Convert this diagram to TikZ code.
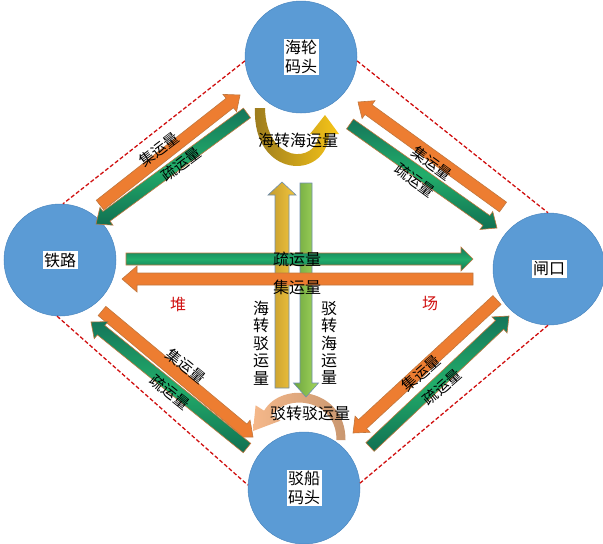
\documentclass[tikz,border=0pt]{standalone}
\usepackage{fontspec}
\setmainfont{Noto Sans CJK SC}
\usetikzlibrary{calc}
\definecolor{cblue}{HTML}{5B9BD5}
\definecolor{cblueedge}{HTML}{4A86BF}
\definecolor{corange}{HTML}{ED7D31}
\definecolor{cedge}{HTML}{C0773E}
\definecolor{cgreenA}{HTML}{15765A}
\definecolor{cgreenB}{HTML}{117052}
\definecolor{cgreenC}{HTML}{22AD6A}
\definecolor{cgoldA}{HTML}{C39B2E}
\definecolor{cgoldB}{HTML}{F3C63D}
\definecolor{clgA}{HTML}{6EA63F}
\definecolor{clgB}{HTML}{A3D65C}
\definecolor{cvedge}{HTML}{6F8FAF}
\definecolor{cred}{HTML}{D01010}
\definecolor{uturnA}{HTML}{9A7A1E}
\definecolor{uturnB}{HTML}{F7C518}
\definecolor{peachA}{HTML}{F5B88A}
\definecolor{peachB}{HTML}{C99770}
\newcommand{\blockarrow}[6]{%
  \coordinate (ba-n) at ($(#3)!#6!(#2)$);
  \path[#1] ($(#2)!#4!90:(#3)$) -- ($(ba-n)!#4!90:(#3)$) -- ($(ba-n)!#5!90:(#3)$) -- (#3)
    -- ($(ba-n)!#5!-90:(#3)$) -- ($(ba-n)!#4!-90:(#3)$) -- ($(#2)!#4!-90:(#3)$) -- cycle;}
\tikzset{
  port/.style={circle, fill=cblue, draw=cblueedge, line width=0.5pt, minimum size=112pt, inner sep=0pt},
  portlab/.style={fill=white, inner sep=1.5pt, align=center, font=\fontsize{16}{19}\selectfont},
  boundary/.style={draw=cred, dash pattern=on 4pt off 2.2pt, line width=1.3pt},
  orangearrow/.style={fill=corange, draw=cedge, line width=0.6pt},
  greenarrow/.style={top color=cgreenA, bottom color=cgreenB, middle color=cgreenC, draw=cedge, line width=0.6pt},
  goldarrow/.style={left color=cgoldA, right color=cgoldB, draw=cvedge, line width=0.6pt},
  lgarrow/.style={left color=clgA, right color=clgB, draw=cvedge, line width=0.6pt},
  lab/.style={inner sep=0pt, font=\fontsize{16}{17}\selectfont},
  dlab/.style={inner sep=0pt, font=\fontsize{15}{16}\selectfont},
  vlab/.style={inner sep=0pt, align=center, font=\fontsize{16}{17.4}\selectfont},
  redlab/.style={inner sep=0pt, text=cred, font=\fontsize{16}{17}\selectfont}
}
\begin{document}
\begin{tikzpicture}[x=1pt, y=-1pt]
\useasboundingbox (0,0) rectangle (603,544);

% curved arrows (behind circles)
\path[left color=uturnA, right color=uturnB] (255,108) .. controls (252,178) and (326,182) .. (329,134)
  -- (339,134) -- (325,115) -- (310,134) -- (319,134) .. controls (316,165) and (266,163) .. (265,108) -- cycle;
\path[left color=peachA, right color=peachB] (345.5,440) .. controls (345.5,388) and (282,380) .. (264.1,410.7)
  -- (255.6,405.3) -- (253,431) -- (280.4,420.7) -- (271.9,415.3) .. controls (287,393) and (336.5,399) .. (336.5,440) -- cycle;

% circles
\node[port] (top) at (301,57) {};
\node[port] (left) at (60,260) {};
\node[port] (right) at (549,269) {};
\node[port] (bottom) at (304,488) {};

% dashed boundary
\draw[boundary] (top.184) -- (left.87);
\draw[boundary] (top.356) -- (right.91);
\draw[boundary] (left.267) -- (bottom.177);
\draw[boundary] (right.269) -- (bottom.5);

% arrow end points
\coordinate (ltO1) at (100,205); \coordinate (ltO2) at (240,95);
\coordinate (ltG1) at (247,113); \coordinate (ltG2) at (96,224);
\coordinate (rtO1) at (503,207); \coordinate (rtO2) at (358,102);
\coordinate (rtG1) at (350,124); \coordinate (rtG2) at (497,228);
\coordinate (lbO1) at (102,311); \coordinate (lbO2) at (253,437);
\coordinate (lbG1) at (247,448); \coordinate (lbG2) at (91,322);
\coordinate (rbO1) at (497,300); \coordinate (rbO2) at (353,433);
\coordinate (rbG1) at (370,447); \coordinate (rbG2) at (509,316);
\coordinate (hG1) at (126,259); \coordinate (hG2) at (473,259);
\coordinate (hO1) at (473,279); \coordinate (hO2) at (122,279);
\coordinate (vY1) at (282,388); \coordinate (vY2) at (282,182);
\coordinate (vG1) at (306,183); \coordinate (vG2) at (306,397);

% vertical arrows
\blockarrow{goldarrow}{vY1}{vY2}{7pt}{14pt}{13pt}
\blockarrow{lgarrow}{vG1}{vG2}{6pt}{12.5pt}{14pt}
% horizontal arrows
\blockarrow{greenarrow}{hG1}{hG2}{6pt}{12pt}{12pt}
\blockarrow{orangearrow}{hO1}{hO2}{6pt}{13pt}{15pt}
% diagonal arrows
\blockarrow{orangearrow}{ltO1}{ltO2}{6pt}{11pt}{13pt}
\blockarrow{greenarrow}{ltG1}{ltG2}{6pt}{11pt}{13pt}
\blockarrow{orangearrow}{rtO1}{rtO2}{6pt}{11pt}{13pt}
\blockarrow{greenarrow}{rtG1}{rtG2}{6pt}{11pt}{13pt}
\blockarrow{orangearrow}{lbO1}{lbO2}{6pt}{11pt}{13pt}
\blockarrow{greenarrow}{lbG1}{lbG2}{6pt}{11pt}{13pt}
\blockarrow{orangearrow}{rbO1}{rbO2}{6pt}{11pt}{13pt}
\blockarrow{greenarrow}{rbG1}{rbG2}{6pt}{11pt}{13pt}

% circle labels
\node[portlab] (toplab) at (top) {海轮\\码头};
\node[portlab] (leftlab) at (left) {铁路};
\node[portlab] (rightlab) at (right) {闸口};
\node[portlab] (bottomlab) at (bottom) {驳船\\码头};

% arrow labels
\node[dlab, rotate=37] (lt1) at (159,149) {集运量};
\node[dlab, rotate=37] (lt2) at (181,164) {疏运量};
\node[dlab, rotate=-36] (rt1) at (432,163) {集运量};
\node[dlab, rotate=-36] (rt2) at (415,180) {疏运量};
\node[dlab, rotate=-39] (lb1) at (186,366) {集运量};
\node[dlab, rotate=-39] (lb2) at (170,392) {疏运量};
\node[dlab, rotate=41] (rb1) at (421,373) {集运量};
\node[dlab, rotate=41] (rb2) at (442,387) {疏运量};
\node[lab] (h1) at (297,259) {疏运量};
\node[lab] (h2) at (297,287) {集运量};
\node[lab] (uturn) at (298,140) {海转海运量};
\node[lab] (bturn) at (310,413) {驳转驳运量};
\node[vlab] (v1) at (261,343) {海\\转\\驳\\运\\量};
\node[vlab] (v2) at (329,343) {驳\\转\\海\\运\\量};
\node[redlab] (dui) at (178,304) {堆};
\node[redlab] (chang) at (430,304) {场};
\end{tikzpicture}
\end{document}
